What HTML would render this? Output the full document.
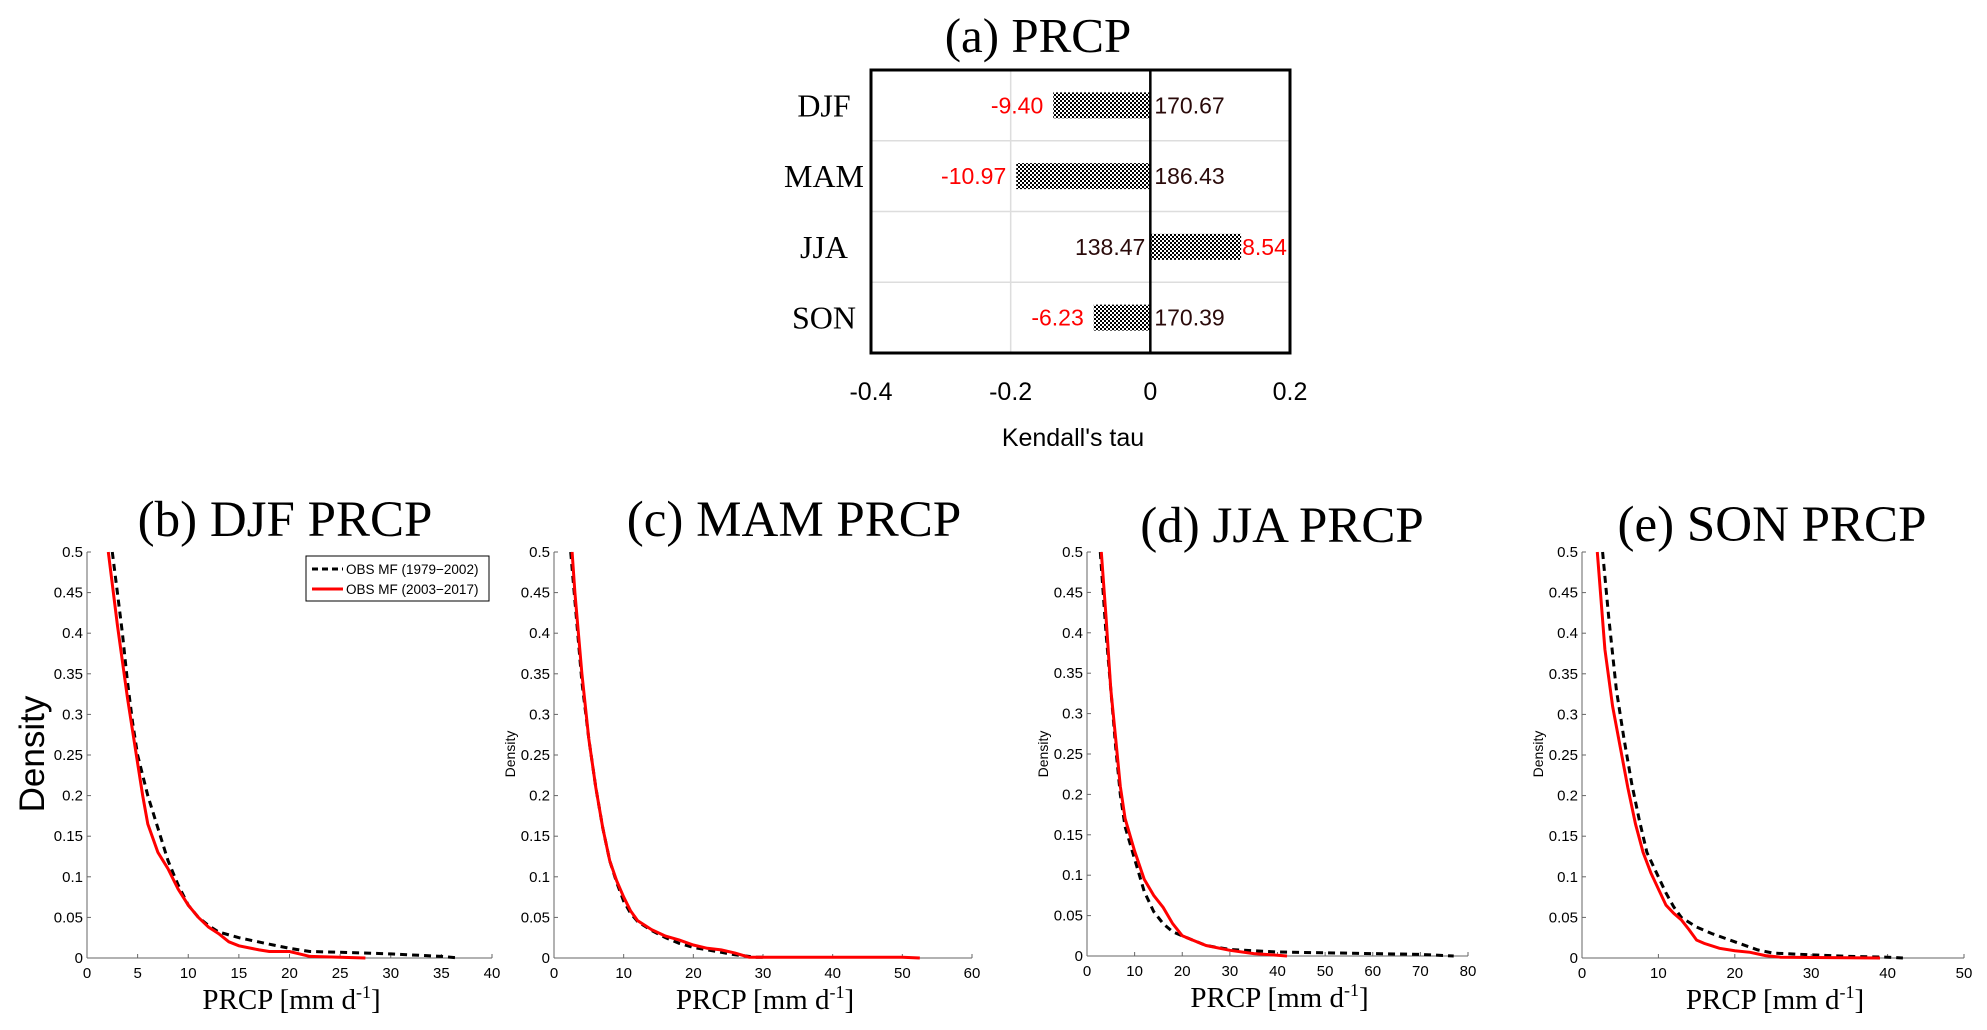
<!DOCTYPE html>
<html><head><meta charset="utf-8"><style>
body{margin:0;background:#fff}
svg{display:block}
.serif{font-family:"Liberation Serif",serif}
.sans{font-family:"Liberation Sans",sans-serif}
</style></head><body>
<svg id="fig" width="1987" height="1030" viewBox="0 0 1987 1030" xmlns="http://www.w3.org/2000/svg">
<defs>
<pattern id="chk" width="4" height="4" patternUnits="userSpaceOnUse">
<rect width="4" height="4" fill="#fff"/><rect width="2" height="2" fill="#000"/><rect x="2" y="2" width="2" height="2" fill="#000"/>
</pattern>
</defs>
<g id="top"></g>
<g id="pdfs"></g>
</svg>
<script>
const NS="http://www.w3.org/2000/svg";
// ---- Panel (a) data ----
const seasons=["DJF","MAM","JJA","SON"];
const tauValues=[-0.139,-0.192,0.13,-0.081];
const trendLabels=["-9.40","-10.97","8.54","-6.23"];
const meanLabels=["170.67","186.43","138.47","170.39"];
const tauTicks=[-0.4,-0.2,0,0.2];
const tauTickLabels=["-0.4","-0.2","0","0.2"];

// ---- Density panels data ----
const bDashX=[2.5,3,3.5,4,4.5,5,6,7,8,9,10,11,12,13,15,18,20,22,25,30,35,36.7];
const bDashY=[0.5,0.45,0.4,0.34,0.29,0.25,0.2,0.16,0.12,0.09,0.065,0.05,0.04,0.032,0.025,0.017,0.012,0.008,0.007,0.005,0.002,0];
const bRedX=[2.1,3,4,5,5.5,6,7,8,9,10,11,12,13,14,15,17,18,20,21,22,25,27.5];
const bRedY=[0.5,0.41,0.32,0.24,0.2,0.165,0.13,0.11,0.085,0.065,0.05,0.038,0.03,0.02,0.015,0.01,0.008,0.008,0.005,0.002,0.001,0];
const cDashX=[2.4,3,4,5,6,7,8,9,10,11,12,14,16,18,20,22,24,26,29,30];
const cDashY=[0.5,0.44,0.34,0.27,0.21,0.16,0.12,0.093,0.07,0.055,0.045,0.034,0.025,0.018,0.013,0.01,0.007,0.004,0.001,0.001];
const cRedX=[2.6,3,4,5,6,7,8,9,10,11,12,14,16,18,20,22,24,26,28,30,50,52.5];
const cRedY=[0.5,0.45,0.35,0.27,0.21,0.16,0.12,0.095,0.075,0.058,0.046,0.035,0.027,0.022,0.016,0.012,0.01,0.006,0.001,0.001,0.001,0];
const dDashX=[2.8,4,5,6,7,8,10,12,14,16,18,20,25,30,40,50,60,70,77];
const dDashY=[0.5,0.4,0.33,0.26,0.2,0.16,0.12,0.08,0.055,0.04,0.03,0.025,0.013,0.008,0.005,0.004,0.003,0.002,0];
const dRedX=[3,4,5,6,7,8,10,12,14,16,18,20,22,25,30,35,40,42];
const dRedY=[0.5,0.42,0.33,0.27,0.21,0.17,0.13,0.095,0.075,0.06,0.04,0.025,0.02,0.013,0.007,0.003,0.001,0];
const eDashX=[2.7,3.5,4.5,5.5,6.5,7.5,8.5,10,11,12,13,15,17,20,23,25,30,35,40,42];
const eDashY=[0.5,0.42,0.33,0.27,0.215,0.17,0.13,0.1,0.08,0.063,0.05,0.038,0.03,0.02,0.01,0.006,0.004,0.002,0.001,0];
const eRedX=[2,3,4,5,6,7,8,9,10,11,12,13,14,15,16,18,20,22,24,26,39];
const eRedY=[0.5,0.38,0.31,0.26,0.21,0.165,0.13,0.105,0.085,0.065,0.055,0.047,0.035,0.022,0.018,0.012,0.009,0.007,0.003,0.001,0];
const densityTicks=[0,0.05,0.1,0.15,0.2,0.25,0.3,0.35,0.4,0.45,0.5];
const densityTickLabels=["0","0.05","0.1","0.15","0.2","0.25","0.3","0.35","0.4","0.45","0.5"];

function mk(tag,attrs,parent,text){const e=document.createElementNS(NS,tag);for(const k in attrs)e.setAttribute(k,attrs[k]);if(text!==undefined)e.textContent=text;parent.appendChild(e);return e;}

// ---- Panel (a) ----
(function(){
  const g=document.getElementById('top');
  const L=871,R=1290,T=70,B=353;
  const xs=v=>L+(v+0.4)/0.6*(R-L);
  const rowH=(B-T)/seasons.length;
  const t=mk('text',{x:1038,y:52,'text-anchor':'middle','font-size':49,class:'serif'},g,'(a) PRCP');
  
  mk('line',{x1:xs(-0.2),x2:xs(-0.2),y1:T,y2:B,stroke:'#ddd','stroke-width':1.5},g);
  for(let i=1;i<seasons.length;i++){mk('line',{x1:L,x2:R,y1:T+i*rowH,y2:T+i*rowH,stroke:'#ddd','stroke-width':1.5},g);}
  seasons.forEach((s,i)=>{
    const cy=T+rowH*(i+0.5);
    const v=tauValues[i];
    const x0=Math.min(xs(0),xs(v)),w=Math.abs(xs(v)-xs(0));
    const bar=mk('rect',{x:x0,y:cy-13,width:w,height:26,fill:'url(#chk)'},g);
    
    const cl=mk('text',{x:824,y:cy+11,'text-anchor':'middle','font-size':32,class:'serif'},g,s);
    
    let tl,ml;
    if(v<0){
      tl=mk('text',{x:xs(v)-10,y:cy+8,'text-anchor':'end','font-size':23,fill:'#f00',class:'sans'},g,trendLabels[i]);
      ml=mk('text',{x:xs(0)+4,y:cy+8,'text-anchor':'start','font-size':23,fill:'#2a0a0a',class:'sans'},g,meanLabels[i]);
    }else{
      tl=mk('text',{x:xs(v)+1,y:cy+8,'text-anchor':'start','font-size':23,fill:'#f00',class:'sans'},g,trendLabels[i]);
      ml=mk('text',{x:xs(0)-5,y:cy+8,'text-anchor':'end','font-size':23,fill:'#2a0a0a',class:'sans'},g,meanLabels[i]);
    }
    
    
  });
  mk('line',{x1:xs(0),x2:xs(0),y1:T,y2:B,stroke:'#000','stroke-width':2.5},g);
  const fr=mk('rect',{x:L,y:T,width:R-L,height:B-T,fill:'none',stroke:'#000','stroke-width':3},g);
  
  tauTicks.forEach((v,i)=>{
    const tk=mk('text',{x:xs(v),y:400,'text-anchor':'middle','font-size':25,class:'sans'},g,tauTickLabels[i]);
    
  });
  const xl=mk('text',{x:1073,y:446,'text-anchor':'middle','font-size':25,class:'sans'},g,"Kendall's tau");
  
})();

// ---- Density panels ----
const panels=[
 {id:'b',title:'(b) DJF PRCP',tx:285,ty:536,L:87,R:492,T:552,B:958,xmax:40,xstep:5,dx:bDashX,dy:bDashY,rx:bRedX,ry:bRedY,big:true,legend:true},
 {id:'c',title:'(c) MAM PRCP',tx:794,ty:536,L:554,R:972,T:552,B:958,xmax:60,xstep:10,dx:cDashX,dy:cDashY,rx:cRedX,ry:cRedY},
 {id:'d',title:'(d) JJA PRCP',tx:1282,ty:542,L:1087,R:1468,T:552,B:956,xmax:80,xstep:10,dx:dDashX,dy:dDashY,rx:dRedX,ry:dRedY},
 {id:'e',title:'(e) SON PRCP',tx:1772,ty:541,L:1582,R:1964,T:552,B:958,xmax:50,xstep:10,dx:eDashX,dy:eDashY,rx:eRedX,ry:eRedY}
];
const root=document.getElementById('pdfs');
panels.forEach(p=>{
  const g=mk('g',{},root);
  
  const xs=v=>p.L+v/p.xmax*(p.R-p.L);
  const ys=v=>p.B-v/0.5*(p.B-p.T);
  const t=mk('text',{x:p.tx,y:p.ty,'text-anchor':'middle','font-size':51,class:'serif'},g,p.title);
  
  mk('line',{x1:p.L,x2:p.L,y1:p.T,y2:p.B,stroke:'#666','stroke-width':1},g);
  mk('line',{x1:p.L,x2:p.R,y1:p.B,y2:p.B,stroke:'#666','stroke-width':1},g);
  densityTicks.forEach((v,i)=>{
    mk('line',{x1:p.L,x2:p.L+4,y1:ys(v),y2:ys(v),stroke:'#666'},g);
    const tk=mk('text',{x:p.L-4,y:ys(v)+5,'text-anchor':'end','font-size':15,class:'sans'},g,densityTickLabels[i]);
    
  });
  for(let v=0;v<=p.xmax;v+=p.xstep){
    mk('line',{x1:xs(v),x2:xs(v),y1:p.B,y2:p.B-4,stroke:'#666'},g);
    const tk=mk('text',{x:xs(v),y:p.B+20,'text-anchor':'middle','font-size':15,class:'sans'},g,String(v));
    
  }
  const xl=mk('text',{x:(p.L+p.R)/2+2,y:p.B+51,'text-anchor':'middle','font-size':29,class:'serif'},g);
  
  xl.appendChild(document.createTextNode('PRCP [mm d'));
  mk('tspan',{dy:-11,'font-size':18},xl,'-1');
  mk('tspan',{dy:11},xl,']');
  let yl;
  if(p.big){yl=mk('text',{x:0,y:0,transform:'translate(44,754) rotate(-90)','text-anchor':'middle','font-size':35,class:'sans'},g,'Density');}
  else{yl=mk('text',{x:0,y:0,transform:`translate(${p.L-39},754) rotate(-90)`,'text-anchor':'middle','font-size':14,class:'sans'},g,'Density');}
  
  const path=(X,Y)=>X.map((x,i)=>(i?'L':'M')+xs(x).toFixed(1)+','+ys(Y[i]).toFixed(1)).join(' ');
  const dl=mk('path',{d:path(p.dx,p.dy),fill:'none',stroke:'#000','stroke-width':3,'stroke-dasharray':'7,5'},g);
  
  const rl=mk('path',{d:path(p.rx,p.ry),fill:'none',stroke:'#f00','stroke-width':3}, g);
  
  if(p.legend){
    const lg=mk('g',{},g);
    mk('rect',{x:306,y:556,width:183,height:45,fill:'#fff',stroke:'#000','stroke-width':1},lg);
    mk('line',{x1:312,x2:343,y1:569,y2:569,stroke:'#000','stroke-width':3,'stroke-dasharray':'6,4'},lg);
    const e1=mk('text',{x:346,y:574,'font-size':13.5,class:'sans'},lg,'OBS MF (1979\u22122002)');
    
    mk('line',{x1:312,x2:343,y1:589,y2:589,stroke:'#f00','stroke-width':3},lg);
    const e2=mk('text',{x:346,y:594,'font-size':13.5,class:'sans'},lg,'OBS MF (2003\u22122017)');
    
  }
});
</script>
</body></html>
